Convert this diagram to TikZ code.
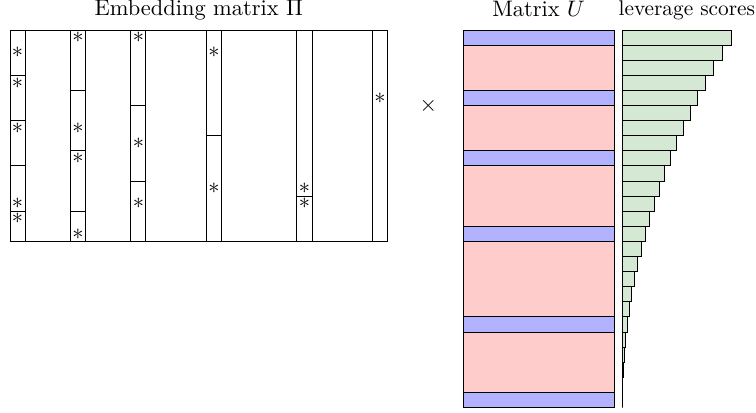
\documentclass[tikz,border=0pt]{standalone}
\definecolor{levgreen}{RGB}{213,232,212}
\begin{document}
\begin{tikzpicture}[x=6.735pt,y=-6.735pt,
  star/.style={inner sep=0pt},
  title/.style={anchor=base},
  urow/.style={draw,fill=blue!30},
  ubody/.style={draw,fill=red!20},
  levbar/.style={draw,fill=levgreen}]
\useasboundingbox (-0.662,-1.987) rectangle (49.40,25.36);
% Embedding matrix Pi
\draw (0,0) rectangle (25,14);
\foreach \c/\divs in {0/{3,6,9,12},4/{4,8,12},8/{5,10},13/{7},19/{11}}{
  \draw (\c,0) rectangle (\c+1,14);
  \foreach \d in \divs { \draw (\c,\d) -- (\c+1,\d); }
}
\draw (24,0) rectangle (25,14);
\foreach \c/\r [count=\k] in {0/1,0/3,0/6,0/11,0/12,4/0,4/6,4/8,4/13,8/0,8/7,8/11,13/1,13/10,19/10,19/11,24/4}{
  \node[star] (s\k) at (\c+0.5,\r+0.5) {$\ast$};
}
\node[title] (tpi) at (12.5,-0.95) {Embedding matrix $\Pi$};
\node (times) at (27.7,5.0) {$\times$};
% Matrix U
\draw[ubody] (30,0) rectangle (40,25);
\foreach \r in {0,4,8,13,19,24}{ \draw[urow] (30,\r) rectangle (40,\r+1); }
\node[title] (tu) at (35,-0.9) {Matrix $U$};
% leverage scores
\foreach \i in {0,...,24}{
  \pgfmathsetmacro{\len}{(24-\i)^2/80}
  \draw[levbar] (40.55,\i) rectangle ++(\len,1);
}
\node[title,font=\fontsize{9.5}{11}\selectfont] (tlev) at (44.82,-0.93) {leverage scores};
\end{tikzpicture}
\end{document}
